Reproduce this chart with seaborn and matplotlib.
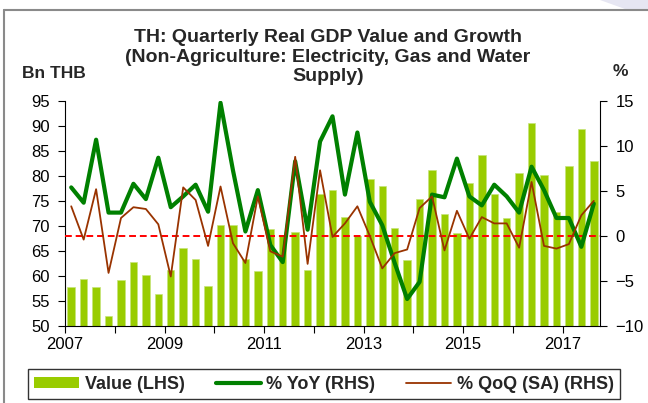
import matplotlib.pyplot as plt
import seaborn as sns
import numpy as np
import pandas as pd
from matplotlib.patches import Patch, Polygon
from matplotlib.lines import Line2D

# Quarterly data, 2007Q1 - 2017Q3
quarters = [f"{y}Q{q}" for y in range(2007, 2018) for q in range(1, 5)][:43]

value = [57.7, 59.3, 57.7, 51.9, 59.2, 62.7, 60.1, 56.4, 61.1, 65.5, 63.4, 57.9,
         70.1, 70.2, 63.4, 60.9, 69.3, 68.0, 68.7, 61.2, 76.4, 77.2, 71.7, 68.0,
         79.3, 77.9, 69.5, 63.2, 75.3, 81.2, 72.4, 68.5, 78.5, 84.1, 76.4, 71.5,
         80.5, 90.5, 80.2, 72.7, 82.0, 89.3, 83.0]

yoy = [5.4, 3.7, 10.7, 2.6, 2.6, 5.8, 4.1, 8.7, 3.2, 4.4, 5.7, 2.7,
       14.8, 7.3, 0.5, 5.1, -1.0, -2.9, 8.3, 0.7, 10.5, 13.3, 4.6, 11.5,
       3.8, 1.2, -3.0, -7.0, -5.1, 4.6, 4.3, 8.6, 4.4, 3.4, 5.7, 4.4,
       2.6, 7.7, 5.1, 2.0, 2.0, -1.2, 3.6]

qoq = [3.3, -0.4, 5.2, -4.1, 2.0, 3.2, 3.0, 1.3, -4.5, 5.4, 4.0, -1.1,
       5.5, -0.8, -3.0, 4.4, -1.7, -2.3, 8.8, -3.1, 7.3, -0.1, 1.4, 3.3,
       0.0, -3.6, -1.9, -1.5, 3.1, 4.4, -1.6, 2.8, -0.3, 2.1, 1.4, 1.4,
       -1.3, 6.0, -1.1, -1.4, -0.9, 2.3, 3.9]

year_labels = ["2007", "", "2009", "", "2011", "", "2013", "", "2015", "", "2017"]

df = pd.DataFrame({"quarter": quarters, "value": value, "yoy": yoy, "qoq": qoq})
df["pos"] = np.arange(len(df))

sns.set_style("white")
plt.rcParams["font.family"] = ["Liberation Sans", "DejaVu Sans"]

fig = plt.figure(figsize=(6.48, 4.03), dpi=100)
ax = fig.add_axes([65 / 648, 1 - 326 / 403, 535 / 648, 225 / 403])

# bars (LHS)
sns.barplot(data=df, x="quarter", y="value", order=quarters, color="#99CC00",
            saturation=1, width=0.6, edgecolor="#c6e47a", linewidth=0.5, ax=ax)
ax.set_ylim(50, 95)
ax.set_yticks(range(50, 96, 5))
ax.set_xlim(-0.5, len(df) - 0.5)
ax.set_xticks(np.arange(-0.5, 43, 4))
ax.set_xticklabels(year_labels)
ax.set_xlabel("")
ax.set_ylabel("")

# lines (RHS)
ax2 = ax.twinx()
ax2.axhline(0, color="#FF0000", lw=1.4, ls=(0, (3.5, 2)), zorder=1)
sns.lineplot(x=df["pos"].values, y=df["yoy"].values, color="#008000", lw=3, ax=ax2, zorder=2)
sns.lineplot(x=df["pos"].values, y=df["qoq"].values, color="#993300", lw=1.3, ax=ax2, zorder=3)
ax2.set_ylim(-10, 15)
ax2.set_yticks(range(-10, 16, 5))
ax2.set_xlim(-0.5, len(df) - 0.5)

for a in (ax, ax2):
    for side in ("left", "right", "bottom"):
        a.spines[side].set_color("black")
        a.spines[side].set_linewidth(0.8)
    a.spines["top"].set_visible(False)
    a.tick_params(direction="out", length=5, width=0.8, color="black",
                  labelsize=12, labelcolor="black", pad=6)
ax2.spines["left"].set_visible(False)
ax2.spines["bottom"].set_visible(False)
ax.spines["right"].set_visible(False)
ax.tick_params(axis="y", which="both", left=True)
ax.tick_params(axis="x", bottom=True, pad=3)

# titles
fig.text(328 / 648, 1 - 29 / 403, "TH: Quarterly Real GDP Value and Growth\n"
         "(Non-Agriculture: Electricity, Gas and Water\nSupply)",
         ha="center", va="top", fontsize=14, fontweight="bold", linespacing=1.2)
fig.text(22 / 648, 1 - 73 / 403, "Bn THB", ha="left", va="center",
         fontsize=12.5, fontweight="bold")
fig.text(620 / 648, 1 - 72 / 403, "%", ha="center", va="center",
         fontsize=12.5, fontweight="bold")

# legend
handles = [Patch(facecolor="#99CC00", edgecolor="none"),
           Line2D([], [], color="#008000", lw=3),
           Line2D([], [], color="#993300", lw=1.3)]
labels = ["Value (LHS)", "% YoY (RHS)", "% QoQ (SA) (RHS)"]
leg = fig.legend(handles, labels, loc="lower left",
                 bbox_to_anchor=(28 / 648, 1 - 399 / 403, 592 / 648, 31 / 403),
                 mode="expand", ncol=3, frameon=True, fancybox=False, handlelength=2.5,
                 handleheight=0.6, handletextpad=0.3, columnspacing=0.9,
                 prop={"size": 13, "weight": "bold"}, borderpad=0.35, borderaxespad=0)
leg.get_frame().set_edgecolor("black")
leg.get_frame().set_linewidth(1.0)

# outer frame and corner decoration
fig.add_artist(Line2D([4 / 648, 4 / 648], [0, 1 - 10 / 403], transform=fig.transFigure,
                      color="#8a8a8a", lw=1.5))
fig.add_artist(Line2D([4 / 648, 1], [1 - 10 / 403, 1 - 10 / 403], transform=fig.transFigure,
                      color="#8a8a8a", lw=1.5))
fig.add_artist(Polygon([[600 / 648, 1], [1, 1], [1, 1 - 9 / 403], [625 / 648, 1 - 9 / 403]],
                       closed=True, transform=fig.transFigure, facecolor="#e6e6f2",
                       edgecolor="none"))

fig.savefig("out.png", dpi=100)
